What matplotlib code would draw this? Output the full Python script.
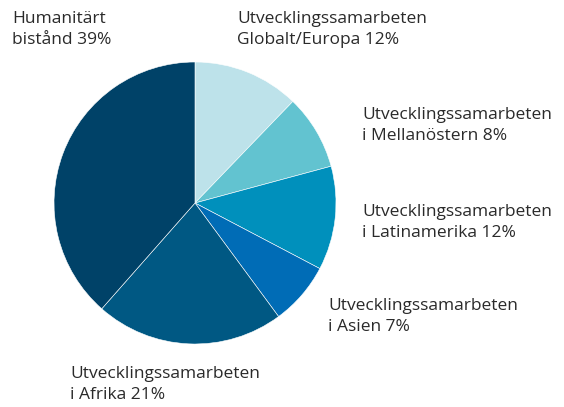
import matplotlib.pyplot as plt

# shares of the aid budget, clockwise from 12 o'clock
labels = ['Utvecklingssamarbeten\nGlobalt/Europa 12%',
          'Utvecklingssamarbeten\ni Mellanöstern 8%',
          'Utvecklingssamarbeten\ni Latinamerika 12%',
          'Utvecklingssamarbeten\ni Asien 7%',
          'Utvecklingssamarbeten\ni Afrika 21%',
          'Humanitärt\nbistånd 39%']
shares = [12.2, 8.6, 11.9, 7.2, 21.6, 38.5]
colors = ['#bde2ea', '#62c3d0', '#0090bc', '#006cb6', '#005883', '#004268']

# where each label sits (pixels from top-left, top of text)
label_pos = [(237, 11), (362, 107), (362, 204), (328, 298), (70, 366), (12, 11)]

H = 407
plt.rcParams['font.family'] = ['Open Sans', 'DejaVu Sans']
fig = plt.figure(figsize=(5.64, 4.07), dpi=100)
ax = fig.add_axes([0, 0, 1, 1])

ax.pie(shares, colors=colors, startangle=90, counterclock=False,
       center=(195, H - 203), radius=141,
       wedgeprops=dict(edgecolor='white', linewidth=0.4))
ax.set_xlim(0, 564)
ax.set_ylim(0, H)
ax.set_aspect('equal')
ax.axis('off')

for (x, y), lab in zip(label_pos, labels):
    ax.text(x, H - y, lab, ha='left', va='top', fontsize=12.5, color='#2a2a2a',
            linespacing=1.45)

fig.savefig('out.png', dpi=100)
